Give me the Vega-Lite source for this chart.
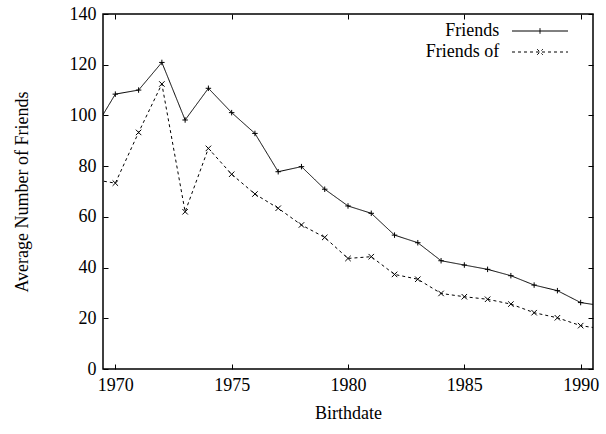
{
  "$schema": "https://vega.github.io/schema/vega-lite/v6.json",
  "autosize": "none",
  "width": 490,
  "height": 355,
  "padding": {"left": 103, "top": 14, "right": 13, "bottom": 65},
  "background": "white",
  "config": {
    "view": {"stroke": "black", "strokeWidth": 1.5},
    "font": "Liberation Serif",
    "axis": {
      "labelFont": "Liberation Serif",
      "labelFontSize": 18,
      "labelColor": "black",
      "titleFont": "Liberation Serif",
      "titleFontSize": 18,
      "titleFontWeight": "normal",
      "titleColor": "black",
      "domain": false,
      "grid": false,
      "tickColor": "black",
      "tickSize": -5,
      "tickWidth": 1
    },
    "legend": {
      "labelFont": "Liberation Serif",
      "labelFontSize": 18,
      "labelColor": "black"
    }
  },
  "data": {
    "values": [
      {"year": 1969, "series": "Friends", "value": 93.1},
      {"year": 1970, "series": "Friends", "value": 108.4},
      {"year": 1971, "series": "Friends", "value": 110.0},
      {"year": 1972, "series": "Friends", "value": 120.9},
      {"year": 1973, "series": "Friends", "value": 98.2},
      {"year": 1974, "series": "Friends", "value": 110.7},
      {"year": 1975, "series": "Friends", "value": 101.1},
      {"year": 1976, "series": "Friends", "value": 92.9},
      {"year": 1977, "series": "Friends", "value": 77.8},
      {"year": 1978, "series": "Friends", "value": 79.8},
      {"year": 1979, "series": "Friends", "value": 70.9},
      {"year": 1980, "series": "Friends", "value": 64.3},
      {"year": 1981, "series": "Friends", "value": 61.4},
      {"year": 1982, "series": "Friends", "value": 52.8},
      {"year": 1983, "series": "Friends", "value": 49.8},
      {"year": 1984, "series": "Friends", "value": 42.7},
      {"year": 1985, "series": "Friends", "value": 41.0},
      {"year": 1986, "series": "Friends", "value": 39.3},
      {"year": 1987, "series": "Friends", "value": 36.8},
      {"year": 1988, "series": "Friends", "value": 33.1},
      {"year": 1989, "series": "Friends", "value": 30.9},
      {"year": 1990, "series": "Friends", "value": 26.2},
      {"year": 1991, "series": "Friends", "value": 24.8},
      {"year": 1969, "series": "Friends of", "value": 74.8},
      {"year": 1970, "series": "Friends of", "value": 73.3},
      {"year": 1971, "series": "Friends of", "value": 93.3},
      {"year": 1972, "series": "Friends of", "value": 112.4},
      {"year": 1973, "series": "Friends of", "value": 62.0},
      {"year": 1974, "series": "Friends of", "value": 87.0},
      {"year": 1975, "series": "Friends of", "value": 76.8},
      {"year": 1976, "series": "Friends of", "value": 69.0},
      {"year": 1977, "series": "Friends of", "value": 63.4},
      {"year": 1978, "series": "Friends of", "value": 56.8},
      {"year": 1979, "series": "Friends of", "value": 51.9},
      {"year": 1980, "series": "Friends of", "value": 43.6},
      {"year": 1981, "series": "Friends of", "value": 44.3},
      {"year": 1982, "series": "Friends of", "value": 37.3},
      {"year": 1983, "series": "Friends of", "value": 35.4},
      {"year": 1984, "series": "Friends of", "value": 29.8},
      {"year": 1985, "series": "Friends of", "value": 28.5},
      {"year": 1986, "series": "Friends of", "value": 27.5},
      {"year": 1987, "series": "Friends of", "value": 25.6},
      {"year": 1988, "series": "Friends of", "value": 22.2},
      {"year": 1989, "series": "Friends of", "value": 20.2},
      {"year": 1990, "series": "Friends of", "value": 17.1},
      {"year": 1991, "series": "Friends of", "value": 15.7}
    ]
  },
  "resolve": {"axis": {"x": "independent", "y": "independent"}},
  "layer": [
    {
      "mark": {"type": "line", "clip": true, "color": "black", "strokeWidth": 1},
      "encoding": {
        "x": {
          "field": "year", "type": "quantitative",
          "scale": {"domain": [1969.47, 1990.53], "nice": false, "zero": false},
          "axis": {"values": [1970, 1975, 1980, 1985, 1990], "format": "d", "title": "Birthdate", "labelPadding": 12, "titlePadding": 10}
        },
        "y": {
          "field": "value", "type": "quantitative",
          "scale": {"domain": [0, 140], "nice": false},
          "axis": {"values": [0, 20, 40, 60, 80, 100, 120, 140], "title": "Average Number of Friends", "labelPadding": 12, "titlePadding": 38}
        },
        "detail": {"field": "series"},
        "strokeDash": {
          "field": "series", "type": "nominal",
          "scale": {"domain": ["Friends", "Friends of"], "range": [[1, 0], [3, 3]]},
          "legend": {
            "title": null,
            "orient": "none",
            "legendX": 428,
            "legendY": 8,
            "symbolSize": 31.36,
            "symbolStrokeColor": "black",
            "symbolStrokeWidth": 1,
            "symbolFillColor": "transparent",
            "labelAlign": "right",
            "labelOffset": -49.8,
            "rowPadding": 3,
            "encode": {
              "symbols": {
                "update": {
                  "shape": {"signal": "datum.value === 'Friends' ? 'M-10,0L10,0M0,-1L0,1' : 'M-10,0L10,0M-1,-1L1,1M-1,1L1,-1'"},
                  "fill": {"value": "transparent"}
                }
              }
            }
          }
        }
      }
    },
    {
      "transform": [{"filter": "datum.series === 'Friends'"}],
      "mark": {"type": "point", "clip": true, "filled": false, "stroke": "black", "strokeWidth": 1, "opacity": 1, "shape": "M-1,0L1,0M0,-1L0,1", "size": 30},
      "encoding": {
        "x": {
          "field": "year", "type": "quantitative",
          "axis": {"orient": "top", "values": [1970, 1975, 1980, 1985, 1990], "labels": false, "title": null}
        },
        "y": {
          "field": "value", "type": "quantitative",
          "axis": {"orient": "right", "values": [0, 20, 40, 60, 80, 100, 120, 140], "labels": false, "title": null}
        }
      }
    },
    {
      "transform": [{"filter": "datum.series === 'Friends of'"}],
      "mark": {"type": "point", "clip": true, "filled": false, "stroke": "black", "strokeWidth": 1, "opacity": 1, "shape": "M-1,-1L1,1M-1,1L1,-1", "size": 30},
      "encoding": {
        "x": {"field": "year", "type": "quantitative", "axis": null},
        "y": {"field": "value", "type": "quantitative", "axis": null}
      }
    }
  ]
}
